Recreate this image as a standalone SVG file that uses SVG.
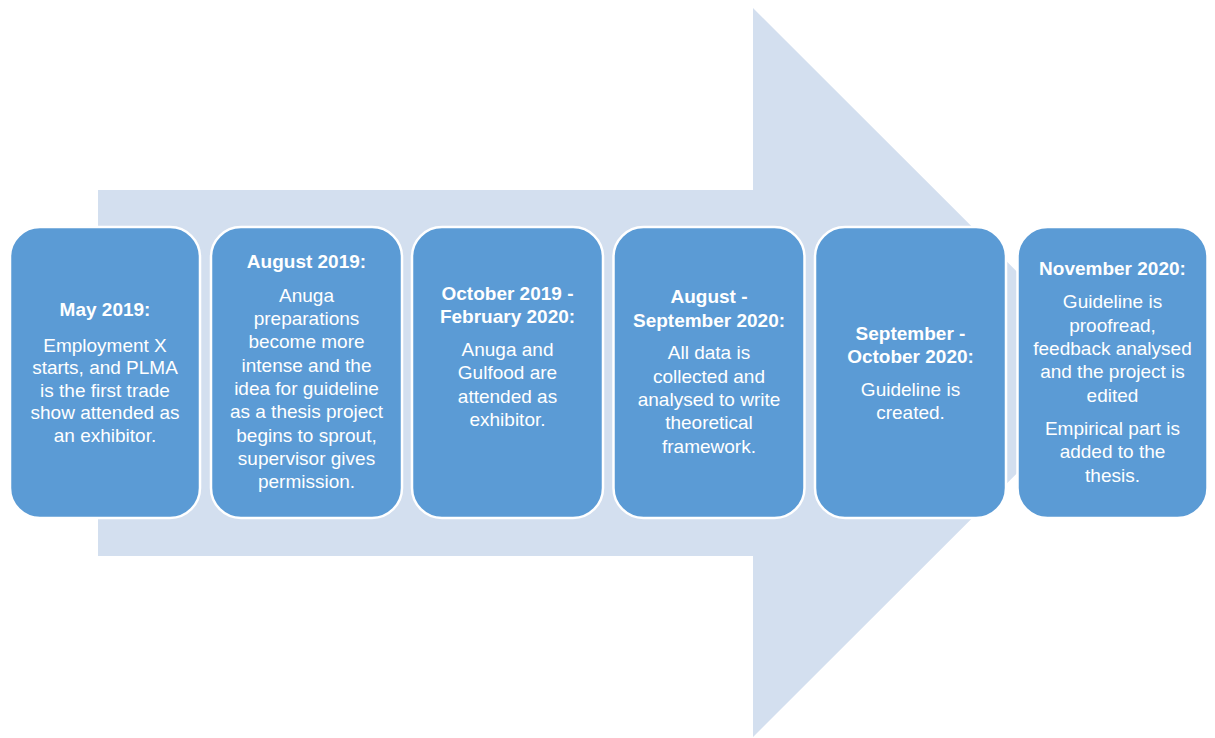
<svg xmlns="http://www.w3.org/2000/svg" width="1215" height="738" viewBox="0 0 1215 738">
  <style>
    .box { fill: #5B9BD5; stroke: #FFFFFF; stroke-width: 2.5; }
    .t { font-family: "Liberation Sans", Arial, sans-serif; font-size: 19px; fill: #FFFFFF; text-anchor: middle; }
    .h { font-weight: bold; }
  </style>
  <rect width="1215" height="738" fill="#FFFFFF"/>

  <!-- background block arrow -->
  <g id="arrow">
    <polygon points="98,190 753,190 753,8 1118,372.5 753,737 753,556 98,556" fill="#D3DFEF"/>
  </g>

  <g id="connectors"></g>

  <g id="node-may-2019">
    <rect class="box" x="10" y="227" width="190" height="291" rx="30"/>
    <text class="t h" x="105" y="316">May 2019:</text>
    <text class="t" x="105" y="351.5">Employment X</text>
    <text class="t" x="105" y="374">starts, and PLMA</text>
    <text class="t" x="105" y="396.5">is the first trade</text>
    <text class="t" x="105" y="419">show attended as</text>
    <text class="t" x="105" y="441.5">an exhibitor.</text>
  </g>

  <g id="node-aug-2019">
    <rect class="box" x="211" y="227" width="191" height="291" rx="30"/>
    <text class="t h" x="306.5" y="268">August 2019:</text>
    <text class="t" x="306.5" y="301.7">Anuga</text>
    <text class="t" x="306.5" y="325">preparations</text>
    <text class="t" x="306.5" y="348.3">become more</text>
    <text class="t" x="306.5" y="371.6">intense and the</text>
    <text class="t" x="306.5" y="395">idea for guideline</text>
    <text class="t" x="306.5" y="418.3">as a thesis project</text>
    <text class="t" x="306.5" y="441.6">begins to sprout,</text>
    <text class="t" x="306.5" y="465">supervisor gives</text>
    <text class="t" x="306.5" y="488.3">permission.</text>
  </g>

  <g id="node-oct-2019-feb-2020">
    <rect class="box" x="412" y="227" width="191" height="291" rx="30"/>
    <text class="t h" x="507.5" y="300">October 2019 -</text>
    <text class="t h" x="507.5" y="323.3">February 2020:</text>
    <text class="t" x="507.5" y="356">Anuga and</text>
    <text class="t" x="507.5" y="379.3">Gulfood are</text>
    <text class="t" x="507.5" y="402.6">attended as</text>
    <text class="t" x="507.5" y="425.5">exhibitor.</text>
  </g>

  <g id="node-aug-sep-2020">
    <rect class="box" x="613.5" y="227" width="191" height="291" rx="30"/>
    <text class="t h" x="709" y="303.3">August -</text>
    <text class="t h" x="709" y="327">September 2020:</text>
    <text class="t" x="709" y="359.3">All data is</text>
    <text class="t" x="709" y="382.6">collected and</text>
    <text class="t" x="709" y="405.9">analysed to write</text>
    <text class="t" x="709" y="429.2">theoretical</text>
    <text class="t" x="709" y="452.5">framework.</text>
  </g>

  <g id="node-sep-oct-2020">
    <rect class="box" x="815" y="227" width="191" height="291" rx="30"/>
    <text class="t h" x="910.5" y="340">September -</text>
    <text class="t h" x="910.5" y="362.7">October 2020:</text>
    <text class="t" x="910.5" y="396">Guideline is</text>
    <text class="t" x="910.5" y="418.5">created.</text>
  </g>

  <g id="node-nov-2020">
    <rect class="box" x="1017.5" y="227" width="190" height="291" rx="30"/>
    <text class="t h" x="1112.5" y="275">November 2020:</text>
    <text class="t" x="1112.5" y="308.3">Guideline is</text>
    <text class="t" x="1112.5" y="331.6">proofread,</text>
    <text class="t" x="1112.5" y="354.9">feedback analysed</text>
    <text class="t" x="1112.5" y="378.2">and the project is</text>
    <text class="t" x="1112.5" y="401.5">edited</text>
    <text class="t" x="1112.5" y="435">Empirical part is</text>
    <text class="t" x="1112.5" y="458.3">added to the</text>
    <text class="t" x="1112.5" y="481.6">thesis.</text>
  </g>
</svg>
